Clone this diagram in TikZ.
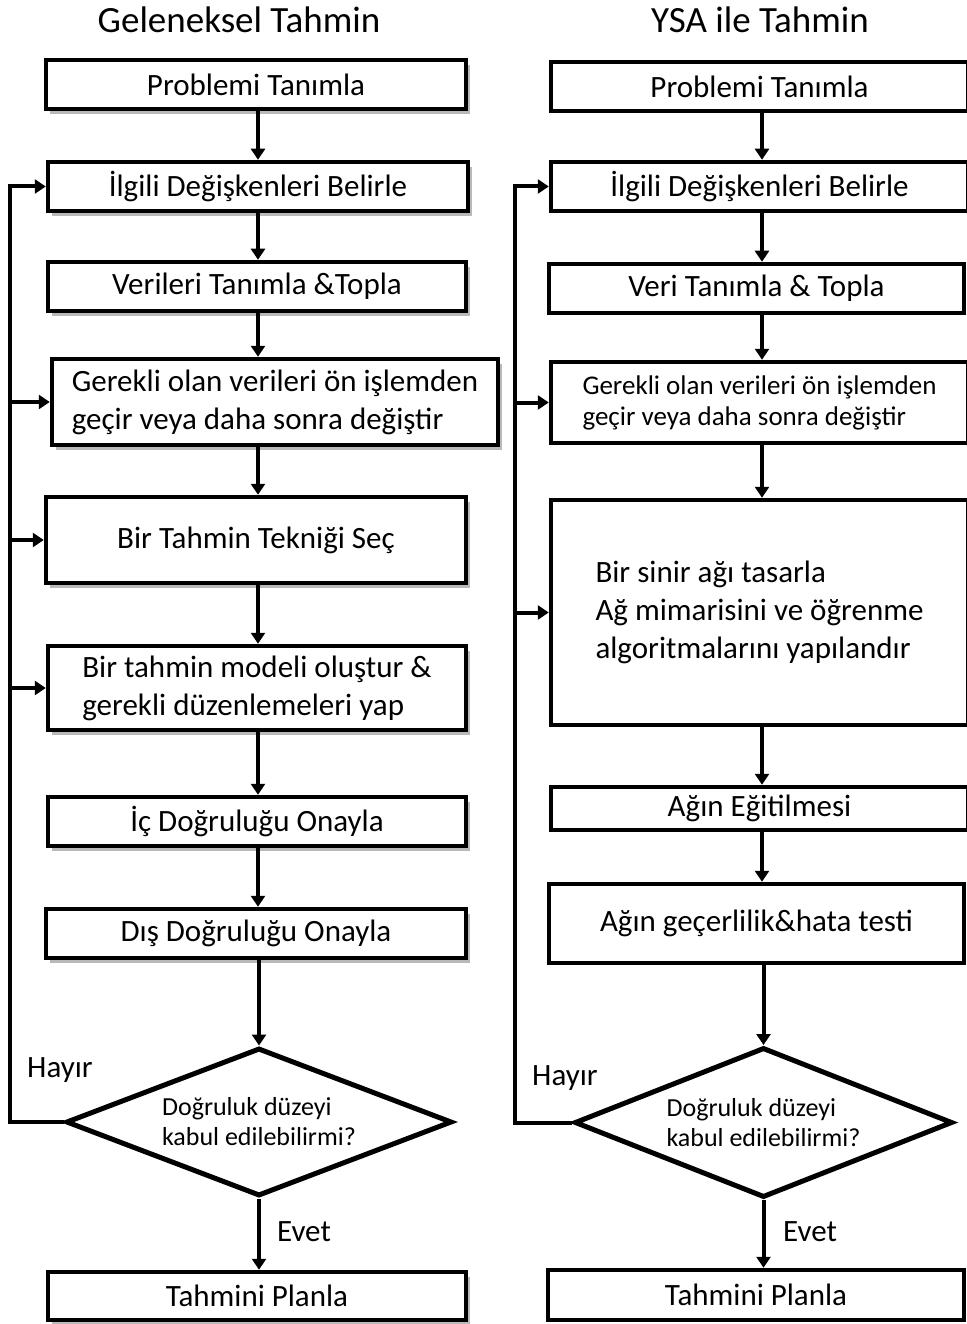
\documentclass[tikz,border=0pt]{standalone}
\usepackage{fontspec}
\setmainfont{Carlito}
\usepackage{tikz}
\usetikzlibrary{arrows.meta,positioning,shapes,shadows,calc}

\begin{document}
\begin{tikzpicture}[x=1pt, y=-1pt,
  box/.style={draw, line width=4.5pt, fill=white, inner sep=2pt,
    font=\fontsize{31}{38}\selectfont},
  shbox/.style={box, drop shadow={shadow xshift=4pt, shadow yshift=-5pt, fill=black!50, opacity=0.55}},
  decide/.style={draw, diamond, aspect=2.6, line width=5pt, fill=white, inner sep=0pt, align=left,
    font=\fontsize{26}{30}\selectfont},
  arr/.style={line width=4pt, -{Triangle[width=14pt,length=11pt]}},
  head/.style={font=\fontsize{37}{40}\selectfont},
  tag/.style={font=\fontsize{31}{36}\selectfont}]

\useasboundingbox (0,0) rectangle (966,1324);

% arrow columns
\coordinate (cL) at (258,0);
\coordinate (cR) at (762,0);

% Geleneksel Tahmin
\node[head] (tL) at (239,20) {Geleneksel Tahmin};
\node[shbox, minimum width=420, minimum height=49] (L1) at (256,84.5) {Problemi Tanımla};
\node[shbox, minimum width=420, minimum height=49] (L2) at (258,186.5) {İlgili Değişkenleri Belirle};
\node[shbox, minimum width=418, minimum height=49] (L3) at (257,286.5) {Verileri Tanımla \&Topla};
\node[shbox, minimum width=446, minimum height=86, align=left] (L4) at (275,402)
  {Gerekli olan verileri ön işlemden\\geçir veya daha sonra değiştir};
\node[shbox, minimum width=420, minimum height=86] (L5) at (256,540) {Bir Tahmin Tekniği Seç};
\node[shbox, minimum width=418, minimum height=84, align=left] (L6) at (257,688)
  {Bir tahmin modeli oluştur \&\\gerekli düzenlemeleri yap};
\node[shbox, minimum width=418, minimum height=49] (L7) at (257,821.5) {İç Doğruluğu Onayla};
\node[shbox, minimum width=420, minimum height=49] (L8) at (256,933.5) {Dış Doğruluğu Onayla};
\node[decide, minimum width=386, minimum height=148] (LD) at (259,1122)
  {Doğruluk düzeyi\\kabul edilebilirmi?};
\node[shbox, minimum width=418, minimum height=48] (L9) at (257,1296) {Tahmini Planla};

\foreach \a/\b in {L1/L2,L2/L3,L3/L4,L4/L5,L5/L6,L6/L7,L7/L8}
  \draw[arr] (\a.south -| cL) -- (\b.north -| cL);
\draw[arr] (L8.south -| LD.north) -- (LD.north);
\draw[arr] (LD.south) -- (L9.north -| LD.south);

% Hayir loop (left)
\coordinate (fbL) at (10,1122);
\draw[arr] (LD.west) -- (fbL) |- (L2.west);
\draw[arr] (fbL |- L4.west) -- (L4.west);
\draw[arr] (fbL |- L5.west) -- (L5.west);
\draw[arr] (fbL |- L6.west) -- (L6.west);
\node[tag] (hL) at (60,1070) {Hayır};
\node[tag] (eL) at (304,1232) {Evet};

% YSA ile Tahmin
\node[head] (tR) at (760,20) {YSA ile Tahmin};
\node[box, minimum width=417, minimum height=49] (R1) at (759.5,86.5) {Problemi Tanımla};
\node[box, minimum width=417, minimum height=49] (R2) at (759.5,186.5) {İlgili Değişkenleri Belirle};
\node[box, minimum width=415, minimum height=49] (R3) at (756.5,288.5) {Veri Tanımla \& Topla};
\node[box, minimum width=417, minimum height=81, align=left, font=\fontsize{27}{31}\selectfont] (R4) at (759.5,402.5)
  {Gerekli olan verileri ön işlemden\\geçir veya daha sonra değiştir};
\node[box, minimum width=417, minimum height=225, align=left] (R5) at (759.5,612.5)
  {Bir sinir ağı tasarla\\Ağ mimarisini ve öğrenme\\algoritmalarını yapılandır};
\node[box, minimum width=417, minimum height=43] (R6) at (759.5,808.5) {Ağın Eğitilmesi};
\node[box, minimum width=415, minimum height=79] (R7) at (756.5,923.5) {Ağın geçerlilik\&hata testi};
\node[decide, minimum width=378, minimum height=150] (RD) at (763.5,1122.5)
  {Doğruluk düzeyi\\kabul edilebilirmi?};
\node[box, minimum width=416, minimum height=50] (R9) at (756,1295) {Tahmini Planla};

\foreach \a/\b in {R1/R2,R2/R3,R3/R4,R4/R5,R5/R6,R6/R7}
  \draw[arr] (\a.south -| cR) -- (\b.north -| cR);
\draw[arr] (R7.south -| RD.north) -- (RD.north);
\draw[arr] (RD.south) -- (R9.north -| RD.south);

% Hayir loop (right)
\coordinate (fbR) at (515,1122.5);
\draw[arr] (RD.west) -- (fbR) |- (R2.west);
\draw[arr] (fbR |- R4.west) -- (R4.west);
\draw[arr] (fbR |- R5.west) -- (R5.west);
\node[tag] (hR) at (565,1078) {Hayır};
\node[tag] (eR) at (810,1232) {Evet};

\end{tikzpicture}
\end{document}
